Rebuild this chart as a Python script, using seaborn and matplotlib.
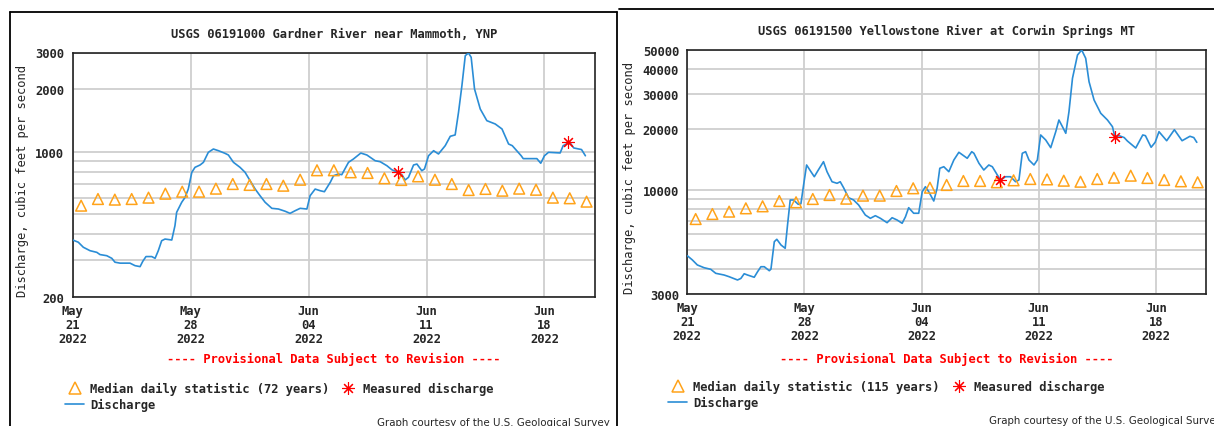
import pandas as pd
import numpy as np
import matplotlib.pyplot as plt
import matplotlib.dates as mdates
from matplotlib.lines import Line2D
from matplotlib.patches import Rectangle
from matplotlib.ticker import NullFormatter
import seaborn as sns

# ---- Gardner River (left) ----
gard_title = "USGS 06191000 Gardner River near Mammoth, YNP"
gard_days = [0.0, 0.33, 0.63, 1.03, 1.43, 1.62, 2.02, 2.32, 2.51, 2.81, 3.4, 3.7, 4.0, 4.16,
             4.35, 4.69, 4.89, 5.08, 5.28, 5.48, 5.88, 6.07, 6.17, 6.47, 6.67, 6.86, 7.07,
             7.26, 7.56, 7.76, 8.05, 8.35, 8.65, 9.04, 9.24, 9.54, 9.93, 10.23, 10.53, 10.83,
             11.12, 11.42, 11.82, 12.21, 12.61, 12.9, 13.2, 13.5, 13.9, 14.09, 14.39, 14.69,
             14.94, 15.29, 15.48, 15.77, 15.97, 16.37, 16.66, 17.1, 17.46, 17.95, 18.25, 18.65,
             18.94, 19.3, 19.54, 19.73, 19.93, 20.23, 20.43, 20.72, 20.88, 21.12, 21.42, 21.71,
             22.11, 22.41, 22.7, 22.9, 23.1, 23.3, 23.49, 23.65, 23.85, 24.19, 24.58, 25.08,
             25.48, 25.87, 26.09, 26.62, 26.74, 27.55, 27.78, 28.0, 28.24, 28.93, 29.11, 29.5,
             29.74, 30.2, 30.43]
gard_flow = [376, 367, 347, 334, 328, 320, 316, 307, 294, 291, 291, 283, 280, 297,
             313, 313, 307, 334, 373, 380, 376, 441, 511, 571, 603, 661, 796,
             841, 863, 889, 993, 1030, 1011, 982, 964, 889, 841, 796, 725, 661,
             614, 571, 534, 530, 517, 505, 520, 534, 530, 614, 661, 649,
             642, 713, 766, 781, 775, 889, 922, 985, 964, 905, 895, 856,
             819, 796, 775, 731, 753, 863, 872, 810, 826, 956, 1011, 975,
             1069, 1186, 1204, 1548, 2076, 2895, 2985, 2845, 2002, 1604, 1410, 1359,
             1286, 1089, 1069, 956, 926, 926, 880, 956, 993, 986, 1069, 1110,
             1042, 1024, 956]
gard_median = [550, 592, 588, 592, 601, 628, 642, 642, 664, 699, 692, 699, 686, 733, 814, 814,
               796, 790, 745, 731, 761, 733, 699, 654, 662, 649, 664, 656, 601, 597, 575]
gard_meas_days = [19.3, 29.42]
gard_meas_flow = [802, 1110]
gard_yticks = [200, 1000, 2000, 3000]
gard_yminor = [300, 400, 500, 600, 700, 800, 900]
gard_median_label = "Median daily statistic (72 years)"

# ---- Yellowstone River (right) ----
yell_title = "USGS 06191500 Yellowstone River at Corwin Springs MT"
yell_days = [0.0, 0.3, 0.6, 1.0, 1.4, 1.7, 2.2, 2.5, 3.0, 3.2, 3.4, 3.6, 4.0, 4.2, 4.4, 4.6,
             4.9, 5.0, 5.2, 5.35, 5.6, 5.85, 5.99, 6.15, 6.35, 6.63, 6.79, 6.95, 7.13, 7.39,
             7.59, 7.83, 8.14, 8.35, 8.65, 8.95, 9.14, 9.34, 9.64, 9.94, 10.24, 10.64, 10.94,
             11.24, 11.54, 11.94, 12.24, 12.54, 12.84, 13.04, 13.23, 13.53, 13.83, 14.04,
             14.23, 14.43, 14.73, 14.93, 15.09, 15.33, 15.63, 15.93, 16.23, 16.73, 17.0,
             17.13, 17.43, 17.72, 18.02, 18.23, 18.53, 18.72, 19.02, 19.32, 19.62, 19.82,
             20.02, 20.22, 20.42, 20.72, 20.92, 21.12, 21.42, 21.72, 22.02, 22.21, 22.42,
             22.62, 22.81, 23.02, 23.32, 23.57, 23.81, 24.01, 24.31, 24.71, 25.11, 25.41,
             25.55, 25.81, 26.11, 26.3, 26.8, 27.22, 27.38, 27.72, 27.96, 28.19, 28.65,
             29.11, 29.57, 30.04, 30.27, 30.45]
yell_flow = [4676, 4456, 4204, 4074, 4000, 3819, 3745, 3673, 3537, 3600, 3800, 3745, 3650, 3890,
             4120, 4120, 3935, 4010, 5495, 5648, 5290, 5093, 6657, 8875, 8875, 8446, 8500,
             10549, 13276, 12290, 11600, 12530, 13790, 12290, 10950, 10755, 10950, 10225,
             9112, 8875, 8380, 7468, 7190, 7410, 7190, 6837, 7239, 7050, 6790, 7322, 8124,
             7620, 7620, 9763, 10340, 9763, 8773, 10155, 12780, 13015, 12290, 14060, 15365,
             14340, 15470, 15190, 13540, 12530, 13276, 13015, 11830, 11175, 11600, 11600,
             10950, 11175, 15190, 15470, 14060, 13276, 14060, 18750, 17700, 16200, 19470,
             22275, 20625, 19115, 24500, 35980, 47040, 49830, 45300, 34600, 28035, 24060,
             22275, 20625, 18380, 18590, 18200, 17500, 16140, 18750, 18600, 16275, 17230,
             19470, 17550, 19920, 17550, 18470, 18200, 17230]
yell_median = [7130, 7553, 7762, 8065, 8253, 8773, 8645, 8978, 9401, 9011, 9330, 9330, 9844,
               10155, 10225, 10549, 11046, 11046, 10880, 11130, 11300, 11250, 11080, 10950,
               11300, 11470, 11740, 11430, 11175, 11005, 10880]
yell_meas_days = [18.7, 25.55]
yell_meas_flow = [11200, 18300]
yell_yticks = [3000, 10000, 20000, 30000, 40000, 50000]
yell_yminor = [4000, 5000, 6000, 7000, 8000, 9000]
yell_median_label = "Median daily statistic (115 years)"

start = pd.Timestamp("2022-05-21")
end = pd.Timestamp("2022-06-21")
week_ticks = pd.to_datetime(["2022-05-21", "2022-05-28", "2022-06-04", "2022-06-11", "2022-06-18"])
median_times = pd.date_range("2022-05-21 12:00", periods=31, freq="D")

sns.set_style("white")
plt.rcParams['font.family'] = ['DejaVu Sans Mono']
plt.rcParams['font.weight'] = 'bold'
plt.rcParams['font.size'] = 8.7

W, H = 1214, 427
fig = plt.figure(figsize=(W / 100, H / 100), dpi=100)

LINE_C = "#2a8dd6"
TRI_C = "#ffa31a"
MEAS_C = "#ff0000"
AST = (8, 2, 0)


def draw_panel(rect, title, days, flow, median, mdays, mflow, yticks, yminor, mlabel,
               ylab_x, leg_xy):
    ax = fig.add_axes(rect)
    dis = pd.DataFrame({"time": start + pd.to_timedelta(days, unit="D"), "flow": flow})
    med = pd.DataFrame({"time": median_times, "flow": median})
    meas = pd.DataFrame({"time": start + pd.to_timedelta(mdays, unit="D"), "flow": mflow})

    sns.lineplot(data=dis, x="time", y="flow", ax=ax, color=LINE_C, lw=1.2, zorder=3)
    sns.scatterplot(data=med, x="time", y="flow", ax=ax, marker="^", s=60,
                    facecolor="none", edgecolor=TRI_C, linewidth=1.1, zorder=4)
    ax.plot(meas["time"], meas["flow"], ls="none", marker=AST, ms=9, mew=0.8,
            color=MEAS_C, zorder=5)

    ax.set_yscale("log")
    ax.set_ylim(yticks[0], yticks[-1])
    ax.set_yticks(yticks, labels=[str(v) for v in yticks])
    ax.set_yticks(yminor, minor=True)
    ax.yaxis.set_minor_formatter(NullFormatter())
    ax.set_xlim(start, end)
    ax.set_xticks(week_ticks)
    ax.xaxis.set_major_formatter(mdates.DateFormatter("%b\n%d\n%Y"))
    for lab in ax.get_xticklabels():
        lab.set_linespacing(1.08)
    ax.tick_params(axis="both", which="both", length=0)
    ax.tick_params(axis="x", pad=5)
    ax.tick_params(axis="y", pad=6)
    ax.grid(True, which="both", color="#cfcfcf", lw=1.3)
    ax.set_axisbelow(True)
    for s in ax.spines.values():
        s.set_color("#222222")
        s.set_linewidth(1.2)

    ax.set_xlabel("")
    ax.set_ylabel("Discharge, cubic feet per second")
    ax.yaxis.set_label_coords(ylab_x, 0.48)
    ax.set_title(title, pad=11.5, fontweight="bold", fontsize=8.7)

    handles = [
        Line2D([], [], ls="none", marker="^", ms=8, mfc="none", mec=TRI_C, mew=1.1),
        Line2D([], [], color=LINE_C, lw=1.2),
        Line2D([], [], ls="none", marker=AST, ms=9, mew=0.8, color=MEAS_C),
    ]
    labels = [mlabel, "Discharge", "Measured discharge"]
    ax.legend(handles, labels, loc="upper left", ncol=2, frameon=False,
              bbox_to_anchor=(leg_xy[0] / W, 1 - leg_xy[1] / H), bbox_transform=fig.transFigure,
              borderpad=0, borderaxespad=0, handlelength=1.6, handletextpad=0.45,
              columnspacing=0.8, labelspacing=0.25)

    cx = rect[0] + rect[2] / 2
    fig.text(cx, 1 - 359.5 / H, "---- Provisional Data Subject to Revision ----",
             color=MEAS_C, ha="center", va="center")
    return ax


draw_panel([72.7 / W, 1 - 298 / H, (595 - 72.7) / W, (298 - 53.5) / H],
           gard_title, gard_days, gard_flow, gard_median, gard_meas_days, gard_meas_flow,
           gard_yticks, gard_yminor, gard_median_label, -0.084, (65, 383))
draw_panel([687.3 / W, 1 - 295.3 / H, (1206 - 687.3) / W, (295.3 - 50.7) / H],
           yell_title, yell_days, yell_flow, yell_median, yell_meas_days, yell_meas_flow,
           yell_yticks, yell_yminor, yell_median_label, -0.099, (668, 381))

# credits, clipped to each panel
clip_left = Rectangle((0, 0), 617 / W, 1, transform=fig.transFigure, visible=False)
fig.add_artist(clip_left)
t = fig.text(377 / W, 1 - 423 / H, "Graph courtesy of the U.S. Geological Survey",
             family="DejaVu Sans", fontweight="normal", fontsize=7.4, ha="left", va="center")
t.set_clip_path(clip_left)
fig.text(989 / W, 1 - 421.5 / H, "Graph courtesy of the U.S. Geological Survey",
         family="DejaVu Sans", fontweight="normal", fontsize=7.4, ha="left", va="center")

# panel borders
for xs, ys in [([10, 10], [427, 13]), ([10, 617], [13, 13]), ([617, 617], [13, 427]),
               ([619, 1214], [9.5, 9.5])]:
    fig.add_artist(Line2D([x / W for x in xs], [1 - y / H for y in ys],
                          transform=fig.transFigure, color="black", lw=1.3))

fig.savefig("out.png", dpi=100)
